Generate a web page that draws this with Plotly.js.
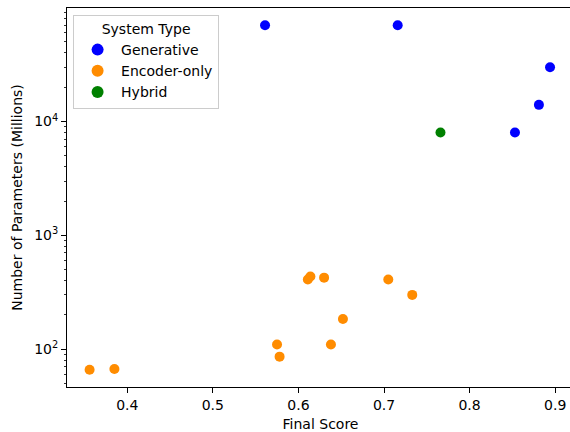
<!DOCTYPE html>
<html>
<head>
<meta charset="utf-8">
<script src="https://cdn.plot.ly/plotly-3.0.1.min.js"></script>
<style>
html, body { margin: 0; padding: 0; overflow: hidden; background: #fff; }
#chart { width: 576px; height: 432px; }
</style>
</head>
<body>
<div id="chart"></div>
<script>
const generativeScore = [0.561, 0.716, 0.894, 0.881, 0.853];
const generativeParams = [70000, 70000, 30000, 14000, 8000];

const encoderScore = [0.356, 0.385, 0.575, 0.578, 0.611, 0.614, 0.630, 0.638, 0.652, 0.705, 0.733];
const encoderParams = [66, 67, 110, 86, 410, 435, 425, 110, 184, 410, 300];

const hybridScore = [0.766];
const hybridParams = [8000];

const seriesNames = ["Generative", "Encoder-only", "Hybrid"];
const xTickVals = [0.4, 0.5, 0.6, 0.7, 0.8, 0.9];
const xTickText = ["0.4", "0.5", "0.6", "0.7", "0.8", "0.9"];
const yTickVals = [100, 1000, 10000];
const yTickText = ["10<sup>2</sup>", "10<sup>3</sup>", "10<sup>4</sup>"];

const font = "DejaVu Sans, sans-serif";
const fs = 14;

function trace(x, y, name, color) {
  return {
    x: x, y: y, name: name, type: "scatter", mode: "markers",
    marker: { color: color, size: 10, line: { width: 0 } },
    cliponaxis: false
  };
}

const data = [
  trace(generativeScore, generativeParams, seriesNames[0], "#0000ff"),
  trace(encoderScore, encoderParams, seriesNames[1], "#ff8c00"),
  trace(hybridScore, hybridParams, seriesNames[2], "#008000")
];

const layout = {
  width: 576, height: 432,
  margin: { l: 67, r: 2, t: 8, b: 45, pad: 0 },
  paper_bgcolor: "#ffffff", plot_bgcolor: "#ffffff",
  font: { family: font, size: fs, color: "#000000" },
  showlegend: true,
  legend: {
    x: 0.012, y: 0.982, xanchor: "left", yanchor: "top",
    bgcolor: "rgba(255,255,255,0.8)", bordercolor: "#cccccc", borderwidth: 1,
    font: { family: font, size: fs, color: "#000000" },
    title: { text: "System Type", side: "top center", font: { family: font, size: fs } },
    itemsizing: "constant", itemwidth: 37, tracegroupgap: 0
  },
  xaxis: {
    range: [0.3296, 0.922], type: "linear",
    tickmode: "array", tickvals: xTickVals, ticktext: xTickText,
    ticks: "outside", ticklen: 5, tickwidth: 1, tickcolor: "#000",
    showline: true, linecolor: "#000", linewidth: 1, mirror: true,
    showgrid: false, zeroline: false,
    tickfont: { family: font, size: fs },
    title: { text: "Final Score", font: { family: font, size: fs }, standoff: 7 }
  },
  yaxis: {
    type: "log", range: [1.668, 4.997],
    tickmode: "array", tickvals: yTickVals, ticktext: yTickText,
    ticks: "outside", ticklen: 5, tickwidth: 1, tickcolor: "#000",
    minor: { dtick: "D1", ticks: "outside", ticklen: 2.5, tickwidth: 0.8, tickcolor: "#000", showgrid: false },
    showline: true, linecolor: "#000", linewidth: 1, mirror: true,
    showgrid: false, zeroline: false,
    tickfont: { family: font, size: fs },
    title: { text: "Number of Parameters (Millions)", font: { family: font, size: fs }, standoff: 8 }
  }
};

Plotly.newPlot("chart", data, layout, { displayModeBar: false, staticPlot: true });
</script>
</body>
</html>
